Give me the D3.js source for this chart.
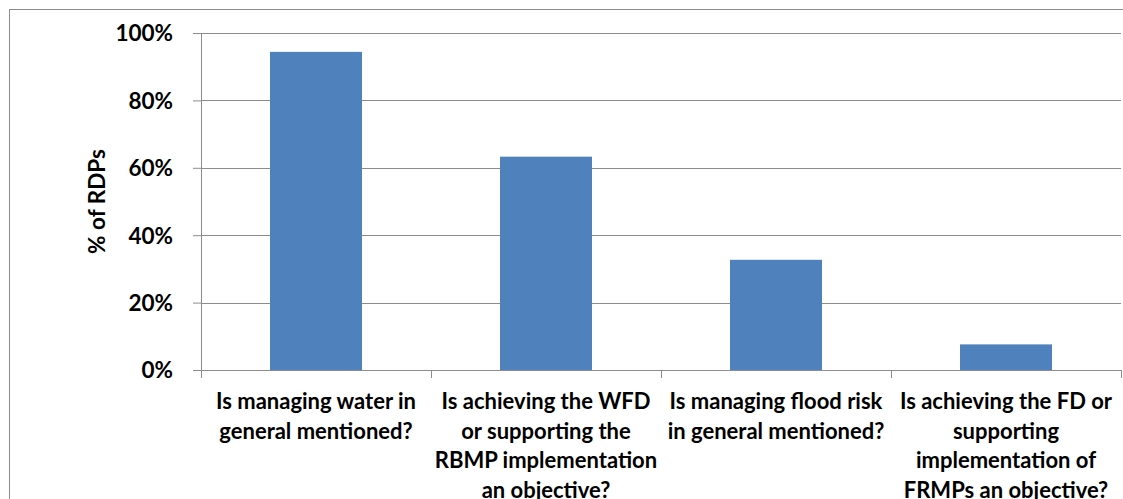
<!DOCTYPE html>
<html>
<head>
<meta charset="utf-8">
<script src="https://cdn.jsdelivr.net/npm/d3@7"></script>
<style>
  body { margin: 0; background: #fff; }
  text { font-family: Lato, "Open Sans", sans-serif; font-weight: bold; fill: #000; }
</style>
</head>
<body>
<svg id="chart" width="1123" height="499"></svg>
<script>
// chart data
const categories = ["water", "wfd", "flood", "fd"];
const labelLines = [
    ["Is managing water in", "general mentioned?"],
    ["Is achieving the WFD", "or supporting the", "RBMP implementation", "an objective?"],
    ["Is managing flood risk", "in general mentioned?"],
    ["Is achieving the FD or", "supporting", "implementation of", "FRMPs an objective?"]
];
const values = [0.944, 0.633, 0.327, 0.076];
const yTicks = [0, 0.2, 0.4, 0.6, 0.8, 1.0];
const yTitle = "% of RDPs";

let margin = {top: 33, right: 2, bottom: 129, left: 201},
    width = 1123 - margin.left - margin.right,
    height = 499 - margin.top - margin.bottom;

let svg = d3.select("#chart");

// outer chart frame (only top and left edges are visible in the crop)
svg.append("rect")
    .attr("x", 9.5).attr("y", 9.5)
    .attr("width", 1130).attr("height", 520)
    .attr("fill", "none")
    .attr("stroke", "#8c8c8c")
    .attr("stroke-width", 1);

let g = svg.append("g").attr("transform", `translate(${margin.left},${margin.top})`);

let x = d3.scaleBand()
    .domain(categories)
    .range([0, width])
    .paddingInner(0.6)
    .paddingOuter(0.3);

let y = d3.scaleLinear()
    .domain([0, 1])
    .range([height, 0]);

// gridlines
g.selectAll(".grid")
    .data(yTicks.filter(d => d > 0))
    .enter().append("line")
    .attr("x1", 0).attr("x2", width)
    .attr("y1", d => Math.round(y(d)) + 0.5)
    .attr("y2", d => Math.round(y(d)) + 0.5)
    .attr("stroke", "#8c8c8c");

// bars
g.selectAll(".bar")
    .data(values)
    .enter().append("rect")
    .attr("x", (d, i) => x(categories[i]))
    .attr("y", d => y(d))
    .attr("width", x.bandwidth())
    .attr("height", d => height - y(d))
    .attr("fill", "#4f81bd");

// y axis
let yAxis = g.append("g")
    .call(d3.axisLeft(y).tickValues(yTicks).tickFormat(d3.format(".0%")).tickSize(8).tickPadding(20));
yAxis.select(".domain").attr("d", `M0.5,0V${height + 8}`).attr("stroke", "#8c8c8c");
yAxis.selectAll(".tick line").attr("stroke", "#8c8c8c");
yAxis.selectAll(".tick text").style("font-size", "22.5px").attr("dy", "0.35em");

// x axis with ticks at band boundaries
let xAxis = g.append("g").attr("transform", `translate(0,${height})`);
xAxis.append("line")
    .attr("x1", 0).attr("x2", width)
    .attr("y1", 0.5).attr("y2", 0.5)
    .attr("stroke", "#8c8c8c");
xAxis.selectAll(".xtick")
    .data(d3.range(categories.length + 1))
    .enter().append("line")
    .attr("x1", i => Math.round(i * x.step()) + 0.5)
    .attr("x2", i => Math.round(i * x.step()) + 0.5)
    .attr("y1", 0).attr("y2", 8)
    .attr("stroke", "#8c8c8c");

// category labels
categories.forEach((c, i) => {
    let t = xAxis.append("text")
        .attr("text-anchor", "middle")
        .style("font-size", "22px");
    labelLines[i].forEach((line, j) => {
        t.append("tspan")
            .attr("x", x(c) + x.bandwidth() / 2)
            .attr("y", 39 + j * 29.7)
            .text(line);
    });
});

// y axis title
g.append("text")
    .attr("transform", `translate(-96,${height / 2}) rotate(-90)`)
    .attr("text-anchor", "middle")
    .style("font-size", "22.5px")
    .text(yTitle);
</script>
</body>
</html>
